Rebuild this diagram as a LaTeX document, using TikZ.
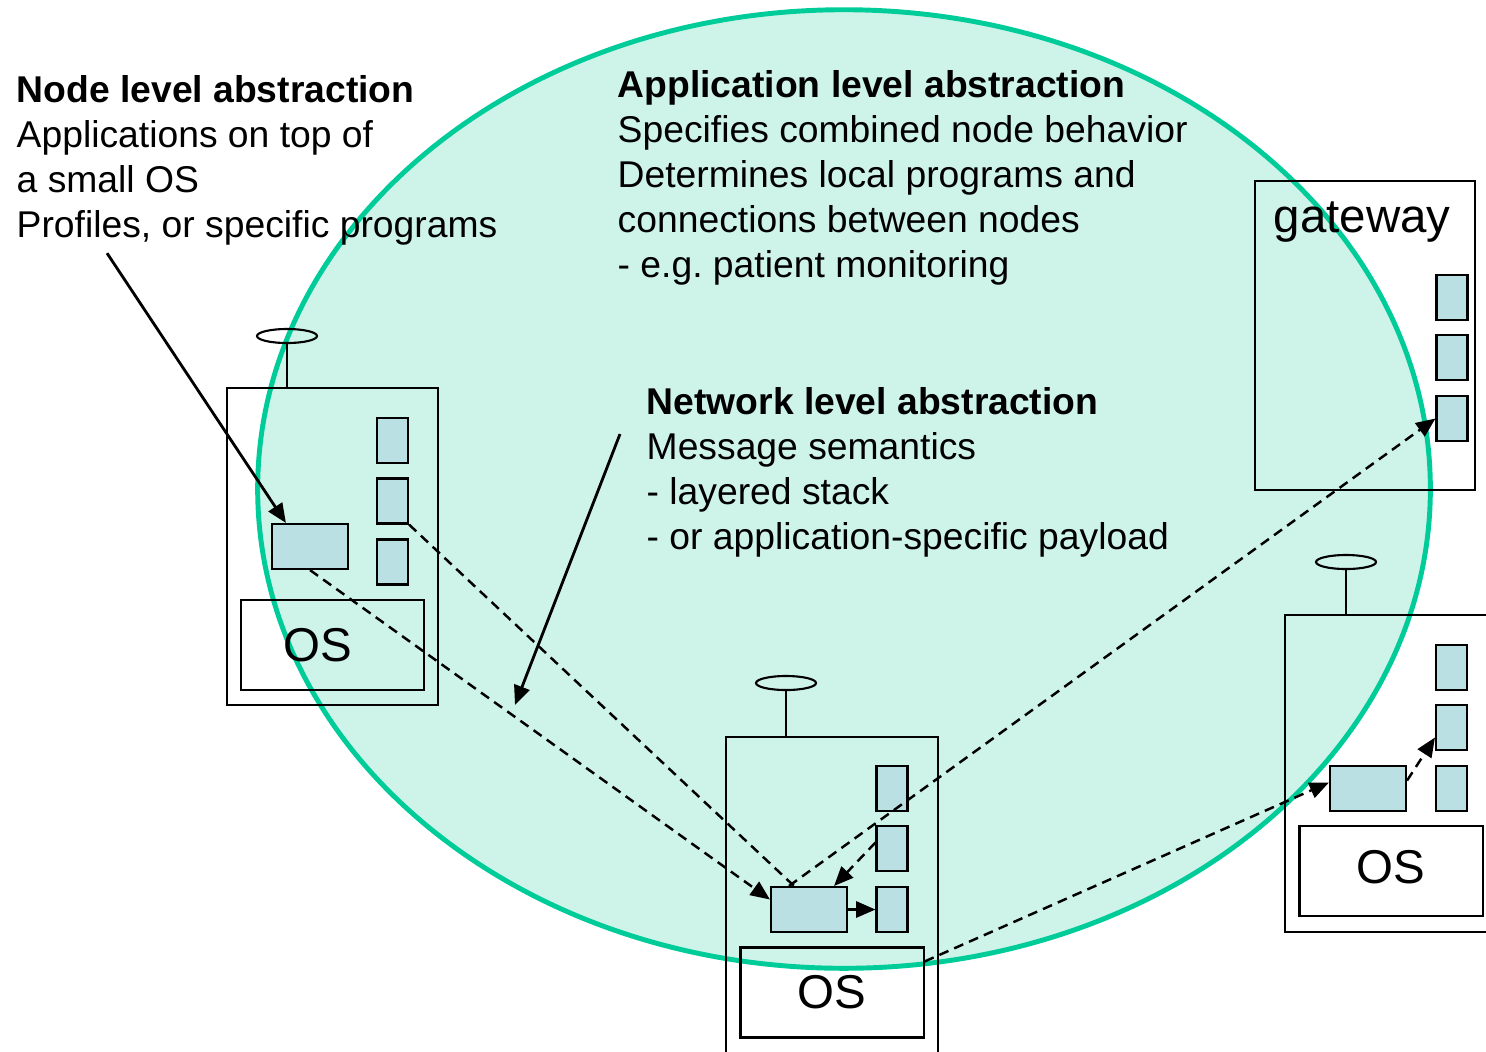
\documentclass[tikz,border=0pt]{standalone}
\usepackage{fontspec}
\setmainfont{Liberation Sans}
\usetikzlibrary{arrows.meta,shapes.geometric}
\definecolor{cloud}{RGB}{206,243,232}
\definecolor{cloudline}{RGB}{0,204,153}
\definecolor{slotblue}{RGB}{187,224,227}
\tikzset{
	unitbox/.style={draw, line width=0.6pt, inner sep=0},
	slot/.style={unitbox, fill=slotblue, minimum width=3.1mm, minimum height=4.5mm},
	app/.style={slot, minimum width=7.6mm},
	osbox/.style={unitbox, minimum width=18.3mm, minimum height=9mm},
	bigfont/.style={font=\fontsize{13.5}{16}\selectfont},
	antenna/.style={draw, ellipse, line width=0.6pt, inner sep=0, minimum width=6mm, minimum height=1.4mm},
	msg/.style={dash pattern=on 2.8pt off 1.8pt, line width=0.7pt},
	arr/.style={-{Triangle[length=5.5pt,width=4.6pt]}},
	label/.style={align=left, anchor=north west, inner sep=0, font=\fontsize{10.6}{12.8}\selectfont}
}
\begin{document}
\begin{tikzpicture}[x=0.01cm, y=-0.01cm]
		\clip (0,0) rectangle (1486,1051);
		\filldraw[fill=cloud, draw=cloudline, line width=1.4pt]
		(844,489) ellipse [x radius=5.86cm, y radius=4.79cm];
		
		% left node
		\node[unitbox, minimum width=21.1mm, minimum height=31.7mm] (lbox) at (332.5,546.5) {};
		\node[antenna] (lant) at (287,336) {};
		\draw[line width=0.6pt] (lant.south) -- (lant.south |- lbox.north);
		\node[slot] (l1) at (392.5,440.5) {};
		\node[slot] (l2) at (392.5,501) {};
		\node[slot] (l3) at (392.5,562) {};
		\node[app] (lapp) at (310,546.5) {};
		\node[osbox] (los) at (332.5,645) {};
		\node[bigfont] at ([xshift=-1.5mm]los.center) {OS};
		
		% bottom node
		\node[unitbox, minimum width=21.2mm, minimum height=36.3mm] (bbox) at (832,918.5) {};
		\node[antenna] (bant) at (786,683) {};
		\draw[line width=0.6pt] (bant.south) -- (bant.south |- bbox.north);
		\node[slot] (b1) at (892,788.5) {};
		\node[slot] (b2) at (892,848.5) {};
		\node[slot] (b3) at (892,909.5) {};
		\node[app] (bapp) at (809,909.5) {};
		\node[osbox, bigfont] (bos) at (832,992.5) {OS};
		
		% gateway
		\node[unitbox, minimum width=22mm, minimum height=30.9mm] (gbox) at (1365,335.5) {};
		\node[bigfont] (gname) at (1362,222) {gateway};
		\node[slot] (g1) at (1452,297.5) {};
		\node[slot] (g2) at (1452,357.5) {};
		\node[slot] (g3) at (1452,418.5) {};
		
		% right node
		\node[unitbox, minimum width=23.5mm, minimum height=31.7mm] (rbox) at (1402.5,773.5) {};
		\node[antenna] (rant) at (1346,562) {};
		\draw[line width=0.6pt] (rant.south) -- (rant.south |- rbox.north);
		\node[slot] (r1) at (1451.5,667.5) {};
		\node[slot] (r2) at (1451.5,727.5) {};
		\node[slot] (r3) at (1451.5,788.5) {};
		\node[app] (rapp) at (1368,788.5) {};
		\node[osbox] (ros) at (1391,871) {};
		\node[bigfont] at ([yshift=0.4mm]ros.center) {OS};
		
		% texts
		\node[label] (nodetxt) at (16,75) {\textbf{Node level abstraction}\\Applications on top of\\a small OS\\Profiles, or specific programs};
		\node[label] (apptxt) at (617,70) {\textbf{Application level abstraction}\\Specifies combined node behavior\\Determines local programs and\\connections between nodes\\- e.g.\ patient monitoring};
		\node[label] (nettxt) at (646,387) {\textbf{Network level abstraction}\\Message semantics\\- layered stack\\- or application-specific payload};
		\coordinate (msgpt) at (515,705);
		
		% arrows
		\draw[arr, line width=0.8pt] ([xshift=9.1mm,yshift=-0.7mm]nodetxt.south west) -- ([xshift=1.5mm]lapp.north west);
		\draw[arr, line width=0.8pt] ([xshift=-2.6mm,yshift=-4.7mm]nettxt.north west) -- (msgpt);
		\draw[msg, arr] (lapp.south) -- ([yshift=1mm]bapp.west);
		\draw[msg] (l2.south east) -- ([xshift=-1.5mm]bapp.north);
		\draw[msg, arr] ([xshift=-2mm]bapp.north) -- (g3.west);
		\draw[msg, arr] ([yshift=0.6mm]b2.west) -- ([xshift=-1.4mm]bapp.north east);
		\draw[msg, arr] (bapp.east) -- (b3.west);
		\draw[msg, arr] ([yshift=-1.5mm]bos.north east) -- ([yshift=0.6mm]rapp.west);
		\draw[msg, arr] ([yshift=0.8mm]rapp.east) -- ([yshift=-1mm]r2.west);
\end{tikzpicture}
\end{document}
